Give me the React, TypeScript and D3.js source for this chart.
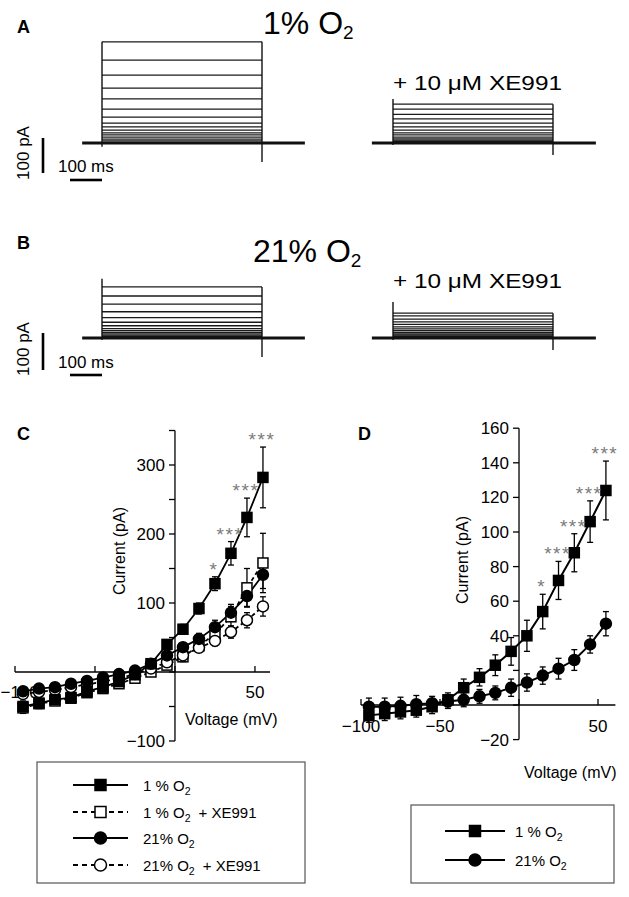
import React from "react";
import * as d3 from "d3";

const FONT = "Arial, 'Liberation Sans', Helvetica, sans-serif";

// ---------- Panels A / B : steady-state current of each sweep (pA) ----------
const sweepsA_ctrl = [289, 237, 194, 157, 126, 97, 74, 57, 46, 37, 29, 23, 17, 11, 6, 0];
const sweepsA_xe = [111, 97, 82, 69, 57, 46, 37, 29, 23, 17, 12, 8, 5, 3, 1, 0];
const sweepsB_ctrl = [146, 120, 97, 75, 58, 45, 35, 27, 21, 16, 12, 8, 5, 3, 1, 0];
const sweepsB_xe = [71, 63, 54, 46, 39, 32, 26, 21, 16, 12, 9, 6, 4, 2, 1, 0];
// capacitive transients: [onset top, onset bottom, offset bottom] in pA
const transA_ctrl = [289, -11, -54];
const transA_xe = [126, -6, -34];
const transB_ctrl = [169, -6, -54];
const transB_xe = [103, -6, -34];
// recording window (ms) relative to step onset
const windowCtrl = [-62, 634];
const windowXe = [-66, 634];
const stepDuration = 500;

// ---------- Panel C / D : IV data ----------
const voltages = [-95, -85, -75, -65, -55, -45, -35, -25, -15, -5, 5, 15, 25, 35, 45, 55];

const c_1pc = [-50, -45, -40, -37, -28, -22, -14, -4, 12, 40, 62, 92, 128, 172, 224, 282];
const c_1pc_se = [8, 7, 7, 6, 6, 5, 5, 5, 5, 6, 7, 8, 10, 17, 28, 44];
const c_1pcXE = [-52, -46, -42, -38, -30, -24, -17, -9, 0, 10, 22, 38, 55, 80, 122, 158];
const c_1pcXE_se = [8, 7, 6, 6, 5, 5, 5, 5, 5, 6, 7, 8, 10, 15, 28, 43];
const c_21pc = [-28, -24, -22, -17, -13, -8, -3, 2, 12, 24, 36, 48, 65, 86, 110, 141];
const c_21pc_se = [5, 4, 4, 4, 4, 4, 4, 4, 5, 5, 6, 8, 10, 12, 15, 20];
const c_21pcXE = [-32, -29, -26, -22, -18, -14, -9, -3, 5, 14, 24, 35, 45, 58, 75, 95];
const c_21pcXE_se = [4, 4, 4, 4, 4, 4, 4, 4, 4, 5, 5, 6, 7, 9, 11, 14];
const c_stars: [number, string][] = [[25, "*"], [35, "***"], [45, "***"], [55, "***"]];

const d_1pc = [-6, -5, -4, -3, -1, 3, 10, 16, 23, 31, 40, 54, 72, 88, 106, 124];
const d_1pc_se = [4, 4, 4, 4, 4, 4, 5, 5, 6, 8, 9, 10, 11, 11, 12, 17];
const d_21pc = [-1, -1, -0.5, 0.5, 1, 2, 3, 5, 7, 10, 13, 17, 21, 26, 35, 47];
const d_21pc_se = [5, 5, 5, 5, 4, 4, 4, 4, 4, 5, 5, 5, 6, 6, 5, 7];
const d_stars: [number, string][] = [[15, "*"], [25, "***"], [35, "***"], [45, "***"], [55, "***"]];

const c_yTicks = [-100, -50, 0, 50, 100, 150, 200, 250, 300, 350];
const c_yLabels = [-100, 100, 200, 300];
const c_xTicks = [-100, -50, 0, 50];
const c_xLabels = [-100, 50];
const d_yTicks = [-20, 0, 20, 40, 60, 80, 100, 120, 140, 160];
const d_yLabels = [-20, 40, 60, 80, 100, 120, 140, 160];
const d_xTicks = [-100, -50, 0, 50];
const d_xLabels = [-100, -50, 50];

const legendC = [
  { text: "1 % O", sub: "2", extra: "", shape: "square", filled: true, dashed: false },
  { text: "1 % O", sub: "2", extra: "+ XE991", shape: "square", filled: false, dashed: true },
  { text: "21% O", sub: "2", extra: "", shape: "circle", filled: true, dashed: false },
  { text: "21% O", sub: "2", extra: "+ XE991", shape: "circle", filled: false, dashed: true },
];
const legendD = [
  { text: "1 % O", sub: "2", extra: "", shape: "square", filled: true, dashed: false },
  { text: "21% O", sub: "2", extra: "", shape: "circle", filled: true, dashed: false },
];

const fmt = (v: number) => (v < 0 ? "\u2212" + Math.abs(v) : String(v));

function Traces({ onsetX, baseY, sweeps, trans, win }: any) {
  const tx = d3.scaleLinear().domain([0, 100]).range([onsetX, onsetX + 32]);
  const iy = d3.scaleLinear().domain([0, 100]).range([baseY, baseY - 35]);
  const max = d3.max(sweeps as number[]) as number;
  return (
    <g>
      {sweeps.map((s: number, i: number) => (
        <line key={i} x1={tx(0)} x2={tx(stepDuration)} y1={iy(s)} y2={iy(s)} stroke="#1a1a1a" strokeWidth={1.3} />
      ))}
      <line x1={tx(win[0])} x2={tx(win[1])} y1={baseY} y2={baseY} stroke="#111" strokeWidth={2.8} />
      <line x1={tx(0)} x2={tx(0)} y1={iy(trans[0])} y2={iy(trans[1])} stroke="#111" strokeWidth={1.4} />
      <line x1={tx(stepDuration)} x2={tx(stepDuration)} y1={iy(max)} y2={iy(trans[2])} stroke="#111" strokeWidth={1.4} />
    </g>
  );
}

function ScaleBar({ x, y0, y1, hx0, hx1, hy, pcy, msy }: any) {
  return (
    <g fontFamily={FONT}>
      <line x1={x} x2={x} y1={y0} y2={y1} stroke="#000" strokeWidth={2.6} />
      <text transform={`translate(29,${pcy}) rotate(-90)`} textAnchor="middle" fontSize={17}>100 pA</text>
      <line x1={hx0} x2={hx1} y1={hy} y2={hy} stroke="#000" strokeWidth={2.6} />
      <text x={58} y={msy} fontSize={17}>100 ms</text>
    </g>
  );
}

function Marker({ shape, filled, cx, cy, size }: any) {
  const fill = filled ? "#000" : "#fff";
  if (shape === "square")
    return <rect x={cx - size / 2} y={cy - size / 2} width={size} height={size} fill={fill} stroke="#000" strokeWidth={1.5} />;
  return <circle cx={cx} cy={cy} r={size / 2 + 0.5} fill={fill} stroke="#000" strokeWidth={1.5} />;
}

function IVPanel({ xs, ys, series, stars, starSeries, yTicks, yLabels, xTicks, xLabels, xLabelOff, size, lineW, leftClampX }: any) {
  const [x0, x1] = xs.range();
  const [yb, yt] = ys.range();
  const X = xs(0);
  const Y = ys(0);
  return (
    <g fontFamily={FONT}>
      {/* axes */}
      <line x1={x0} x2={x1} y1={Y} y2={Y} stroke="#000" strokeWidth={1.3} />
      <line x1={X} x2={X} y1={yb} y2={yt} stroke="#000" strokeWidth={1.3} />
      {yTicks.map((t: number) => (
        <line key={"yt" + t} x1={X - 6} x2={X} y1={ys(t)} y2={ys(t)} stroke="#000" strokeWidth={1.3} />
      ))}
      {xTicks.map((t: number) => (
        <line key={"xt" + t} x1={xs(t)} x2={xs(t)} y1={Y - 6} y2={Y} stroke="#000" strokeWidth={1.3} />
      ))}
      {yLabels.map((t: number) => (
        <text key={"yl" + t} x={X - 10} y={ys(t) + 6} textAnchor="end" fontSize={17}>{fmt(t)}</text>
      ))}
      {xLabels.map((t: number) => {
        const cx = xs(t);
        const clamp = leftClampX !== undefined && cx - 19 < leftClampX;
        return (
          <text key={"xl" + t} x={clamp ? leftClampX : cx} y={Y + xLabelOff} textAnchor={clamp ? "start" : "middle"} fontSize={17}>{fmt(t)}</text>
        );
      })}
      {/* lines */}
      {series.map((s: any, i: number) => {
        const line = d3.line<number>().x((_, j) => xs(voltages[j])).y((v) => ys(v));
        return (
          <path key={"ln" + i} d={line(s.values) as string} fill="none" stroke="#000" strokeWidth={lineW}
            strokeDasharray={s.dashed ? "4,3" : undefined} />
        );
      })}
      {/* error bars */}
      {series.map((s: any, i: number) => (
        <g key={"eb" + i} stroke="#000" strokeWidth={1.3}>
          {s.values.map((v: number, j: number) => {
            const cx = xs(voltages[j]);
            const hi = ys(v + s.se[j]);
            const lo = ys(v - s.se[j]);
            return (
              <g key={j}>
                <line x1={cx} x2={cx} y1={hi} y2={lo} />
                <line x1={cx - 3} x2={cx + 3} y1={hi} y2={hi} />
                <line x1={cx - 3} x2={cx + 3} y1={lo} y2={lo} />
              </g>
            );
          })}
        </g>
      ))}
      {/* markers */}
      {series.map((s: any, i: number) => (
        <g key={"mk" + i}>
          {s.values.map((v: number, j: number) => (
            <Marker key={j} shape={s.shape} filled={s.filled} cx={xs(voltages[j])} cy={ys(v)} size={size} />
          ))}
        </g>
      ))}
      {/* significance */}
      {stars.map(([v, label]: [number, string]) => {
        const j = voltages.indexOf(v);
        const top = ys(starSeries.values[j] + starSeries.se[j]);
        return (
          <text key={"st" + v} x={xs(v) - 1} y={top - 1} textAnchor="middle" fontSize={19} fill="#7a7a7a" letterSpacing={1.5}>
            {label}
          </text>
        );
      })}
    </g>
  );
}

function Legend({ x, y, w, h, items, rowY, lx0, lx1, tx, fs }: any) {
  return (
    <g fontFamily={FONT}>
      <rect x={x} y={y} width={w} height={h} fill="#fff" stroke="#555" strokeWidth={1.2} />
      {items.map((it: any, i: number) => {
        const cy = rowY[i];
        return (
          <g key={i}>
            <line x1={lx0} x2={lx1} y1={cy} y2={cy} stroke="#000" strokeWidth={2} strokeDasharray={it.dashed ? "5,4" : undefined} />
            <Marker shape={it.shape} filled={it.filled} cx={(lx0 + lx1) / 2} cy={cy} size={11} />
            <text x={tx} y={cy + 6} fontSize={fs}>
              {it.text}
              <tspan fontSize={fs * 0.7} dy={4}>{it.sub}</tspan>
              {it.extra ? <tspan dy={-4} dx={8}>{it.extra}</tspan> : null}
            </text>
          </g>
        );
      })}
    </g>
  );
}

export default function App() {
  const xC = d3.scaleLinear().domain([-100, 59.4]).range([15, 270]);
  const yC = d3.scaleLinear().domain([-100, 350]).range([741, 430.5]);
  const xD = d3.scaleLinear().domain([-100, 61]).range([361, 615.4]);
  const yD = d3.scaleLinear().domain([-20, 160]).range([739.6, 428.2]);

  const seriesC = [
    { values: c_1pcXE, se: c_1pcXE_se, shape: "square", filled: false, dashed: true },
    { values: c_21pcXE, se: c_21pcXE_se, shape: "circle", filled: false, dashed: true },
    { values: c_1pc, se: c_1pc_se, shape: "square", filled: true, dashed: false },
    { values: c_21pc, se: c_21pc_se, shape: "circle", filled: true, dashed: false },
  ];
  const seriesD = [
    { values: d_1pc, se: d_1pc_se, shape: "square", filled: true, dashed: false },
    { values: d_21pc, se: d_21pc_se, shape: "circle", filled: true, dashed: false },
  ];

  return (
    <svg width={629} height={897} viewBox="0 0 629 897" style={{ position: "absolute", left: 0, top: 0, background: "#fff" }}>
      <rect width={629} height={897} fill="#fff" />
      {/* Panel labels */}
      <g fontFamily={FONT} fontWeight="bold" fontSize={18}>
        <text x={17} y={33}>A</text>
        <text x={17} y={249}>B</text>
        <text x={17} y={440}>C</text>
        <text x={358} y={440}>D</text>
      </g>
      {/* Titles */}
      <g fontFamily={FONT}>
        <text x={263} y={34} fontSize={32}>1% O<tspan fontSize={19} dy={5}>2</tspan></text>
        <text x={253} y={262} fontSize={32}>21% O<tspan fontSize={19} dy={5}>2</tspan></text>
        <text x={393} y={90} fontSize={21} textLength={169} lengthAdjust="spacingAndGlyphs">+ 10 μM XE991</text>
        <text x={393} y={288} fontSize={21} textLength={169} lengthAdjust="spacingAndGlyphs">+ 10 μM XE991</text>
      </g>
      {/* Traces */}
      <Traces onsetX={102} baseY={143} sweeps={sweepsA_ctrl} trans={transA_ctrl} win={windowCtrl} />
      <Traces onsetX={393} baseY={143} sweeps={sweepsA_xe} trans={transA_xe} win={windowXe} />
      <Traces onsetX={102} baseY={338} sweeps={sweepsB_ctrl} trans={transB_ctrl} win={windowCtrl} />
      <Traces onsetX={393} baseY={338} sweeps={sweepsB_xe} trans={transB_xe} win={windowXe} />
      <ScaleBar x={43} y0={138} y1={173} hx0={70} hx1={102} hy={180} pcy={153} msy={172} />
      <ScaleBar x={43} y0={333} y1={370} hx0={70} hx1={102} hy={375} pcy={349} msy={368} />

      {/* Panel C */}
      <IVPanel xs={xC} ys={yC} series={seriesC} stars={c_stars} starSeries={seriesC[2]}
        yTicks={c_yTicks} yLabels={c_yLabels} xTicks={c_xTicks} xLabels={c_xLabels} xLabelOff={26} size={10} lineW={1.8} leftClampX={0.5} />
      <text x={185} y={725} fontFamily={FONT} fontSize={16}>Voltage (mV)</text>
      <text transform="translate(125,551) rotate(-90)" textAnchor="middle" fontFamily={FONT} fontSize={16}>Current (pA)</text>

      {/* Panel D */}
      <IVPanel xs={xD} ys={yD} series={seriesD} stars={d_stars} starSeries={seriesD[0]}
        yTicks={d_yTicks} yLabels={d_yLabels} xTicks={d_xTicks} xLabels={d_xLabels} xLabelOff={27} size={10} lineW={2} />
      <text x={524} y={778} fontFamily={FONT} fontSize={16}>Voltage (mV)</text>
      <text transform="translate(468,560) rotate(-90)" textAnchor="middle" fontFamily={FONT} fontSize={16}>Current (pA)</text>

      {/* Legends */}
      <Legend x={37} y={762} w={268} h={121} items={legendC} rowY={[785, 812, 838, 865]} lx0={73} lx1={128} tx={143} fs={15} />
      <Legend x={411} y={805} w={203} h={78} items={legendD} rowY={[831, 860]} lx0={445} lx1={505} tx={515} fs={15} />
    </svg>
  );
}
